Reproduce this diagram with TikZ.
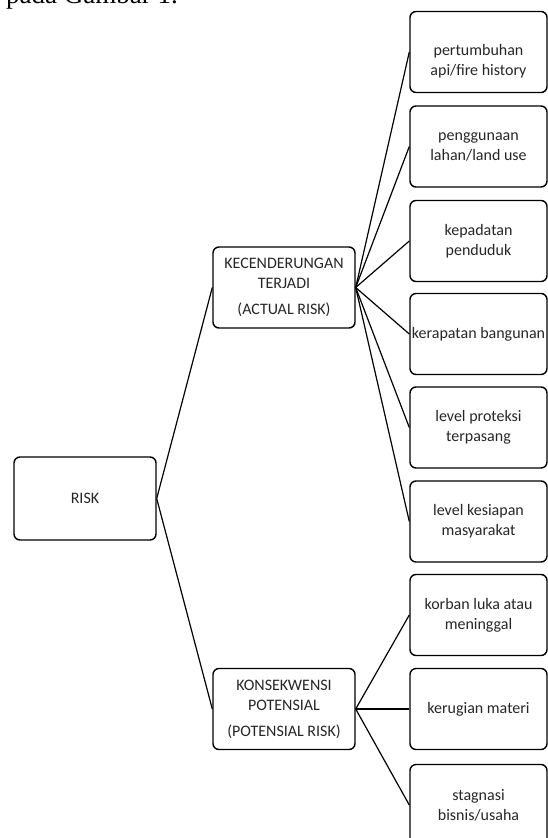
\documentclass[tikz,border=0pt]{standalone}
\usepackage{fontspec}
\setmainfont{Carlito}
\newfontfamily\seriffont{Liberation Serif}
\begin{document}
\begin{tikzpicture}[x=1pt,y=-1pt,
  box/.style={draw, line width=1.4pt, rounded corners=6pt, align=center, inner sep=1pt,
    font=\fontsize{16}{20}\selectfont, text=black!85},
  rbox/.style={box, minimum width=137pt, minimum height=81pt},
  mbox/.style={box, minimum width=142pt, minimum height=81pt},
  link/.style={line width=1.2pt}]
\useasboundingbox (0,0) rectangle (548,838);
\clip (0,0) rectangle (548,838);
\node[anchor=base east, inner sep=0, font=\seriffont\fontsize{27}{30}\selectfont] (cap) at (178,3) {pada Gambar 1.};
\node[mbox, minimum height=83pt] (risk) at (85,498.5) {RISK};
\node[mbox] (kec) at (284,287.5) {KECENDERUNGAN\\TERJADI\\[6pt](ACTUAL RISK)};
\node[mbox] (kon) at (284,709) {KONSEKWENSI\\POTENSIAL\\[6pt](POTENSIAL RISK)};
\node[rbox] (r1) at (478.5,52) {};
\node[box, draw=none, inner sep=0] (t1) at ([yshift=-9pt]r1.center) {pertumbuhan\\api/fire history};
\node[rbox] (r2) at (478.5,146.5) {penggunaan\\lahan/land use};
\node[rbox] (r3) at (478.5,241) {kepadatan\\penduduk};
\node[rbox] (r4) at (478.5,334) {kerapatan bangunan};
\node[rbox] (r5) at (478.5,427.5) {level proteksi\\terpasang};
\node[rbox] (r6) at (478.5,521.5) {level kesiapan\\masyarakat};
\node[rbox] (r7) at (478.5,615) {korban luka atau\\meninggal};
\node[rbox] (r8) at (478.5,709) {kerugian materi};
\node[rbox] (r9) at (478.5,805) {stagnasi\\bisnis/usaha};
\draw[link] (risk.east) -- (kec.west);
\draw[link] (risk.east) -- (kon.west);
\foreach \i in {1,...,6} \draw[link] (kec.east) -- (r\i.west);
\foreach \i in {7,8,9} \draw[link] (kon.east) -- (r\i.west);
\end{tikzpicture}
\end{document}
